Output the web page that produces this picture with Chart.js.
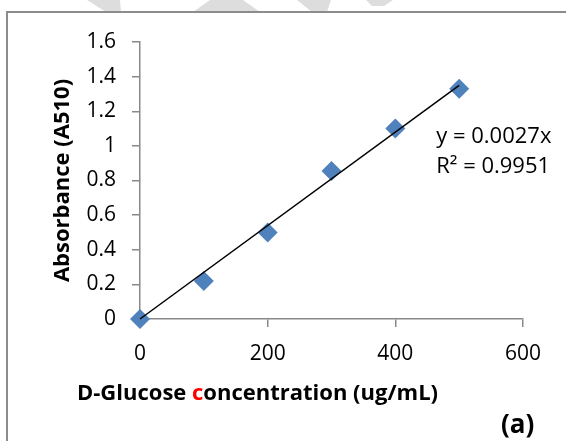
<!DOCTYPE html>
<html lang="en">
<head>
    <meta charset="UTF-8">
    <title>D-Glucose standard curve</title>
    <script src="https://cdn.jsdelivr.net/npm/chart.js@4.4.0/dist/chart.umd.min.js"></script>
    <style>
        html, body { margin: 0; padding: 0; background: #fff; }
        canvas { display: block; }
    </style>
</head>
<body>
    <canvas id="glucoseChart" width="566" height="441"></canvas>

    <script>
        // Data
        var concentration = [0, 100, 200, 300, 400, 500];
        var absorbance = [0, 0.22, 0.5, 0.855, 1.1, 1.33];
        // trendline end points (y = 0.0027x)
        var trendX = [0, 500];
        var trendY = [0, 1.35];
        var xTicks = [0, 200, 400, 600];
        var yTicks = [0, 0.2, 0.4, 0.6, 0.8, 1, 1.2, 1.4, 1.6];
        var equationLines = ['y = 0.0027x', 'R\u00B2 = 0.9951'];

        var FONT = '"Open Sans", sans-serif';
        var AXIS = '#898989';

        function toPoints(xs, ys) {
            return xs.map(function (x, i) { return { x: x, y: ys[i] }; });
        }

        // Frame, watermark, axis title with red "c", equation and panel label
        var decorations = {
            id: 'decorations',
            beforeDraw: function (chart) {
                var ctx = chart.ctx;
                ctx.save();
                ctx.fillStyle = '#fff';
                ctx.fillRect(0, 0, chart.width, chart.height);
                // faint watermark peeking above the frame
                ctx.fillStyle = '#dddddd';
                [
                    [[87, 0], [120, 0], [121, 12], [106, 12]],
                    [[210, 0], [243, 0], [260, 12], [193, 12]],
                    [[297, 0], [331, 0], [327, 12], [312, 12]],
                    [[366, 0], [393, 0], [384, 6], [372, 6]]
                ].forEach(function (poly) {
                    ctx.beginPath();
                    ctx.moveTo(poly[0][0], poly[0][1]);
                    for (var i = 1; i < poly.length; i++) ctx.lineTo(poly[i][0], poly[i][1]);
                    ctx.closePath();
                    ctx.fill();
                });
                ctx.fillStyle = '#fff';
                ctx.fillRect(7, 12, chart.width, chart.height);
                ctx.strokeStyle = '#8c8c8c';
                ctx.lineWidth = 2;
                ctx.strokeRect(7, 12, chart.width + 10, chart.height + 10);
                ctx.restore();
            },
            afterDraw: function (chart) {
                var ctx = chart.ctx;
                var xs = chart.scales.x, ys = chart.scales.y;
                ctx.save();
                ctx.textBaseline = 'alphabetic';

                // x axis title, the "c" of concentration in red
                ctx.font = 'bold 22px ' + FONT;
                var parts = [['D-Glucose ', '#000'], ['c', '#ff0000'], ['oncentration (ug/mL)', '#000']];
                var x = 77;
                parts.forEach(function (p) {
                    ctx.fillStyle = p[1];
                    ctx.fillText(p[0], x, 400);
                    x += ctx.measureText(p[0]).width;
                });

                // trendline equation
                ctx.font = '22px ' + FONT;
                ctx.fillStyle = '#000';
                var ex = xs.getPixelForValue(464);
                var ey = ys.getPixelForValue(1.015);
                equationLines.forEach(function (t, i) {
                    ctx.fillText(t, ex, ey + i * 30);
                });

                // panel label
                ctx.font = 'bold 26px ' + FONT;
                ctx.fillText('(a)', 501, 433);
                ctx.restore();
            }
        };

        var chart = new Chart(document.getElementById('glucoseChart'), {
            type: 'scatter',
            data: {
                datasets: [{
                    label: 'Absorbance',
                    data: toPoints(concentration, absorbance),
                    pointStyle: 'rectRot',
                    pointRadius: 10,
                    pointHoverRadius: 10,
                    backgroundColor: '#4f81bd',
                    borderColor: '#4f81bd',
                    borderWidth: 0,
                    clip: false,
                    order: 2
                }, {
                    label: 'Linear fit',
                    type: 'line',
                    data: toPoints(trendX, trendY),
                    borderColor: '#000',
                    borderWidth: 1.5,
                    pointRadius: 0,
                    fill: false,
                    clip: false,
                    order: 1
                }]
            },
            options: {
                responsive: false,
                animation: false,
                devicePixelRatio: 1,
                layout: { padding: { top: 42, right: 43, bottom: 0, left: 0 } },
                plugins: {
                    legend: { display: false },
                    tooltip: { enabled: false }
                },
                scales: {
                    x: {
                        type: 'linear',
                        min: 0,
                        max: 600,
                        afterFit: function (s) { s.height = 122; },
                        afterBuildTicks: function (s) {
                            s.ticks = xTicks.map(function (v) { return { value: v }; });
                        },
                        ticks: {
                            color: '#000',
                            padding: 14,
                            callback: function (v) { return String(v); },
                            font: { family: FONT, size: 21 }
                        },
                        grid: {
                            drawOnChartArea: false,
                            drawTicks: true,
                            tickLength: 8,
                            color: AXIS,
                            lineWidth: 1.5
                        },
                        border: { color: AXIS, width: 1.5 }
                    },
                    y: {
                        type: 'linear',
                        min: 0,
                        max: 1.6,
                        afterFit: function (s) { s.width = 140; },
                        afterBuildTicks: function (s) {
                            s.ticks = yTicks.map(function (v) { return { value: v }; });
                        },
                        ticks: {
                            color: '#000',
                            padding: 16,
                            callback: function (v) { return String(v); },
                            font: { family: FONT, size: 21 }
                        },
                        grid: {
                            drawOnChartArea: false,
                            drawTicks: true,
                            tickLength: 8,
                            color: AXIS,
                            lineWidth: 1.5
                        },
                        border: { color: AXIS, width: 1.5 },
                        title: {
                            display: true,
                            text: 'Absorbance (A510)',
                            color: '#000',
                            font: { family: FONT, size: 22, weight: 'bold' },
                            padding: { top: 50, bottom: 0 }
                        }
                    }
                }
            },
            plugins: [decorations]
        });
    </script>
</body>
</html>
